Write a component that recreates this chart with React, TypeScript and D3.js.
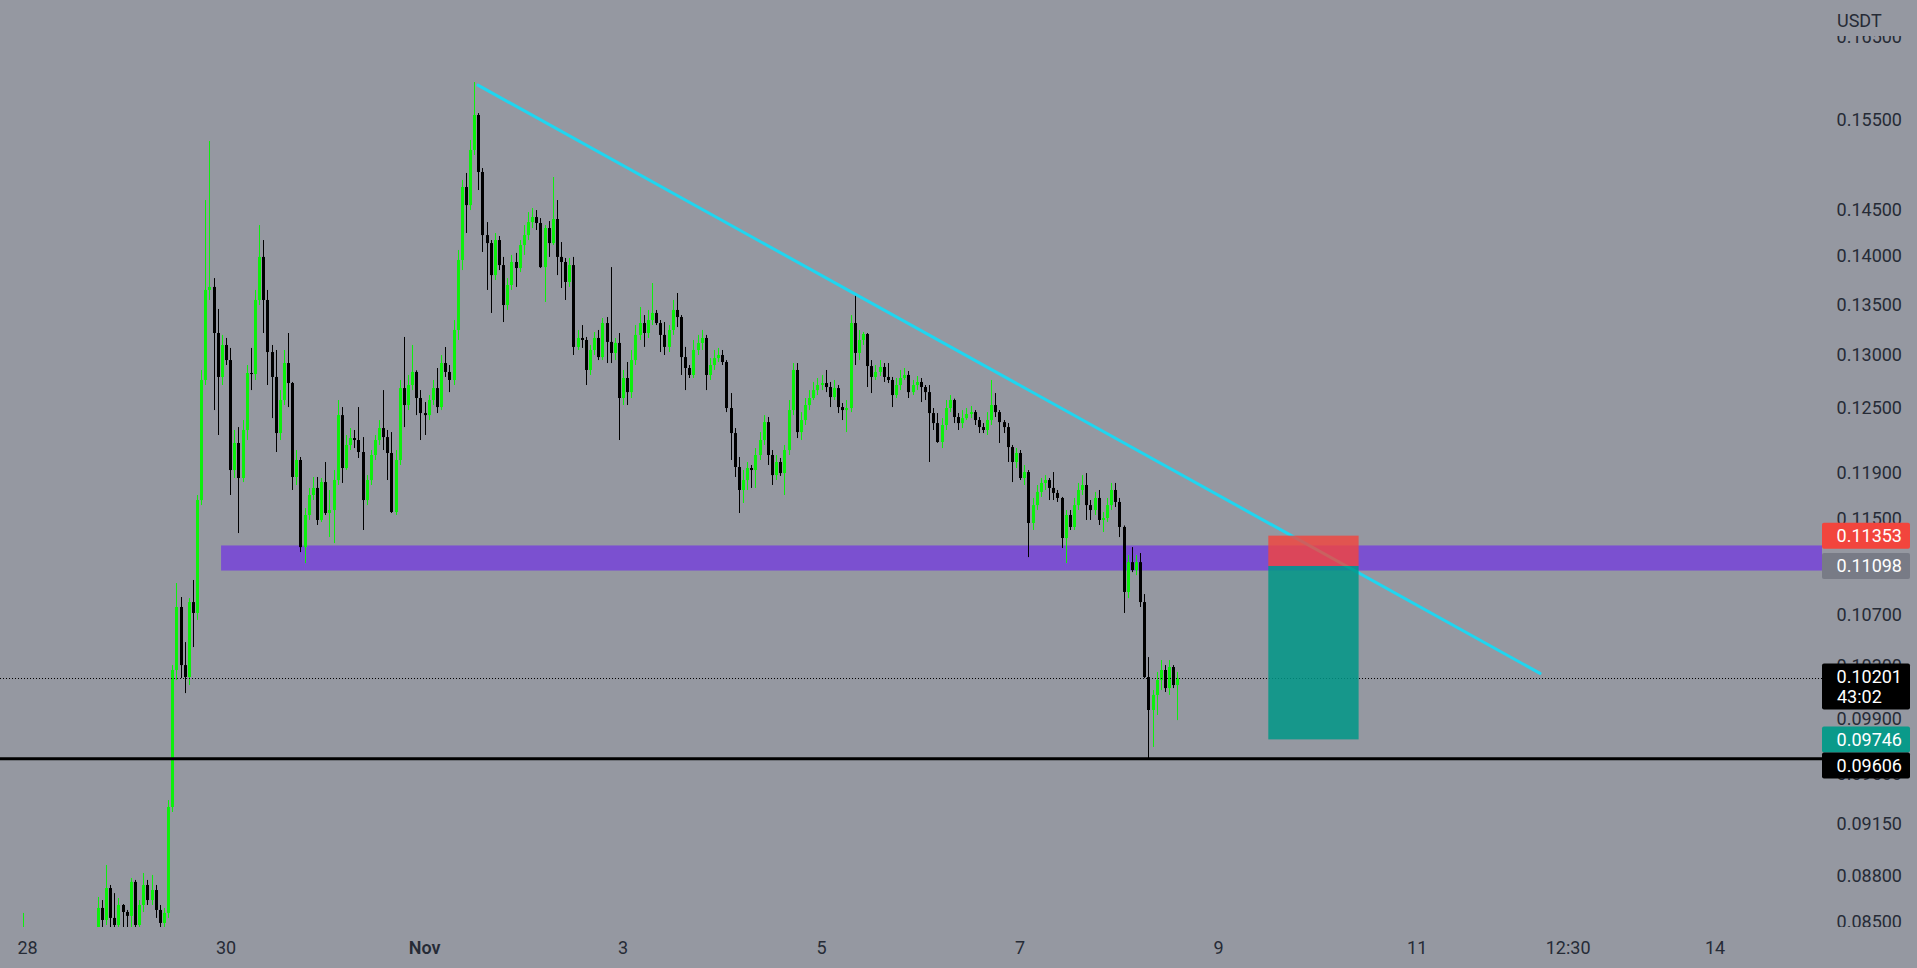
import React from "react";
import * as d3 from "d3";

const W = 1917;
const H = 968;
const PLOT_RIGHT = 1822;
const PLOT_BOTTOM = 927;

const BG = "#9598a1";
const UP = "#0cf00c";
const DOWN = "#000000";
const TEXT = "#262b36";

// hourly candles, first one opens Oct 27 23:00
const firstCandle = Date.UTC(2023, 9, 27, 23);
const hourMs = 3600 * 1000;

const opens = [
  0.08386, 0.08436, 0.08418, 0.08386, 0.08374, 0.08336, 0.08355, 0.08324, 0.08312, 0.08336,
  0.08361, 0.08349, 0.08324, 0.08305, 0.08336, 0.08361, 0.08386, 0.08399, 0.08418, 0.0859,
  0.08513, 0.08719, 0.08526, 0.08481, 0.08609, 0.08564, 0.08539, 0.08759, 0.08481, 0.08609,
  0.08739, 0.08641, 0.08706, 0.08577, 0.08494, 0.08558, 0.09265, 0.10266, 0.10762, 0.10304,
  0.10212, 0.10802, 0.10714, 0.1166, 0.12757, 0.13647, 0.13678, 0.13214, 0.12786, 0.13096,
  0.12949, 0.11925, 0.12169, 0.11854, 0.12288, 0.12824, 0.12814, 0.13545, 0.13989, 0.13545,
  0.13027, 0.12786, 0.1226, 0.12567, 0.1292, 0.12728, 0.11863, 0.12015, 0.11256, 0.1153,
  0.11704, 0.11766, 0.11487, 0.11818, 0.11547, 0.11573, 0.11836, 0.12426, 0.11943, 0.12151,
  0.12214, 0.12196, 0.12087, 0.1166, 0.11836, 0.1206, 0.12196, 0.12306, 0.12223, 0.12078,
  0.11556, 0.12015, 0.1268, 0.1252, 0.12709, 0.12834, 0.12586, 0.12445, 0.12426, 0.12567,
  0.1268, 0.12501, 0.1292, 0.12834, 0.12757, 0.13244, 0.13957, 0.14741, 0.14543, 0.15156,
  0.15558, 0.14908, 0.1422, 0.14135, 0.138, 0.14167, 0.13904, 0.13494, 0.13698, 0.13936,
  0.13873, 0.14114, 0.1422, 0.14359, 0.14413, 0.14349, 0.13883, 0.14295, 0.14135, 0.14392,
  0.13989, 0.13936, 0.13729, 0.13904, 0.13077, 0.13165, 0.13145, 0.12853, 0.13047, 0.13165,
  0.12978, 0.13313, 0.13126, 0.13018, 0.13116, 0.12586, 0.12776, 0.12642, 0.12949, 0.13195,
  0.13313, 0.13214, 0.13343, 0.13414, 0.13313, 0.13195, 0.13077, 0.13244, 0.13444, 0.13373,
  0.12978, 0.12872, 0.12805, 0.13047, 0.13116, 0.13165, 0.12805, 0.12901, 0.12968, 0.12998,
  0.1293, 0.12492, 0.1226, 0.11952, 0.11748, 0.11836, 0.11943, 0.11925, 0.1206, 0.12196,
  0.12361, 0.1206, 0.1188, 0.11997, 0.11898, 0.12105, 0.12473, 0.12853, 0.12269, 0.1238,
  0.1252, 0.12586, 0.12661, 0.12709, 0.12728, 0.1269, 0.12595, 0.1268, 0.12501, 0.12473,
  0.12492, 0.13313, 0.13018, 0.13145, 0.13204, 0.12891, 0.12786, 0.12834, 0.12882, 0.12786,
  0.12757, 0.12614, 0.12709, 0.12776, 0.12805, 0.12642, 0.12709, 0.12738, 0.1269, 0.12642,
  0.12445, 0.12352, 0.12178, 0.12334, 0.12492, 0.12567, 0.12408, 0.12352, 0.12398, 0.12436,
  0.12454, 0.1238, 0.12315, 0.12288, 0.1238, 0.1252, 0.12454, 0.12361, 0.12315, 0.12132,
  0.11997, 0.12078, 0.11854, 0.11907, 0.11461, 0.11616, 0.11731, 0.1181, 0.11836, 0.11766,
  0.11722, 0.11678, 0.11333, 0.1153, 0.11427, 0.11616, 0.11748, 0.11792, 0.11616, 0.11573,
  0.11678, 0.11487, 0.11504, 0.11616, 0.11748, 0.11643, 0.11427, 0.10884, 0.1113, 0.11064,
  0.1113, 0.10802, 0.10212, 0.09963, 0.10076, 0.10189, 0.10266, 0.10128, 0.10289, 0.10151,
];

const highs = [
  0.08558, 0.08446, 0.0843, 0.08405, 0.0838, 0.0837, 0.08362, 0.0834, 0.0835, 0.08375,
  0.0837, 0.08355, 0.08335, 0.08345, 0.08375, 0.08395, 0.0841, 0.0843, 0.08661, 0.08641,
  0.08871, 0.08739, 0.08686, 0.08654, 0.08615, 0.08577, 0.08785, 0.08772, 0.08641, 0.08818,
  0.08772, 0.08805, 0.08739, 0.08609, 0.0859, 0.09313, 0.10304, 0.10957, 0.10843, 0.10483,
  0.10834, 0.10982, 0.11704, 0.12853, 0.14598, 0.15258, 0.13769, 0.13454, 0.13195, 0.13165,
  0.13067, 0.12288, 0.12315, 0.1238, 0.12901, 0.13067, 0.13647, 0.14327, 0.14167, 0.13647,
  0.13096, 0.13047, 0.12661, 0.13047, 0.13214, 0.12738, 0.12105, 0.12042, 0.1159, 0.11766,
  0.11863, 0.11863, 0.11854, 0.11997, 0.11748, 0.11925, 0.12567, 0.12501, 0.12242, 0.12306,
  0.12288, 0.12501, 0.12223, 0.1188, 0.12105, 0.12242, 0.1238, 0.12661, 0.12288, 0.12269,
  0.12105, 0.12757, 0.13175, 0.12805, 0.13096, 0.1285, 0.12661, 0.12548, 0.12614, 0.12757,
  0.12872, 0.12998, 0.13076, 0.12901, 0.13343, 0.14062, 0.14819, 0.14897, 0.1527, 0.15947,
  0.15581, 0.14952, 0.14359, 0.14167, 0.14242, 0.1421, 0.13989, 0.13769, 0.1401, 0.14031,
  0.14167, 0.14327, 0.14467, 0.14511, 0.14489, 0.14402, 0.14327, 0.1437, 0.14852, 0.14598,
  0.14146, 0.13978, 0.13978, 0.13989, 0.13244, 0.13293, 0.13175, 0.13096, 0.13224, 0.13244,
  0.13363, 0.13373, 0.13883, 0.13165, 0.13214, 0.12853, 0.1293, 0.13047, 0.13293, 0.13474,
  0.13393, 0.13444, 0.13718, 0.13444, 0.13343, 0.13323, 0.13293, 0.13545, 0.13616, 0.13393,
  0.13077, 0.12901, 0.13145, 0.13195, 0.13244, 0.13195, 0.12968, 0.13047, 0.13067, 0.13047,
  0.12949, 0.12633, 0.12306, 0.12042, 0.11925, 0.11997, 0.1197, 0.12123, 0.12269, 0.12426,
  0.12408, 0.12105, 0.1206, 0.12033, 0.12151, 0.12567, 0.1292, 0.1292, 0.12454, 0.12586,
  0.12661, 0.12738, 0.12776, 0.12805, 0.12853, 0.12738, 0.12757, 0.12709, 0.12539, 0.12567,
  0.13393, 0.13616, 0.13244, 0.13224, 0.13214, 0.12949, 0.12901, 0.12949, 0.1292, 0.1292,
  0.12786, 0.12776, 0.12853, 0.12872, 0.12843, 0.12757, 0.12795, 0.12776, 0.12709, 0.12709,
  0.12492, 0.12445, 0.12398, 0.12567, 0.12614, 0.1258, 0.12445, 0.12473, 0.12492, 0.12511,
  0.12473, 0.12408, 0.12352, 0.12454, 0.12757, 0.12633, 0.12473, 0.1238, 0.12352, 0.12151,
  0.12123, 0.12105, 0.1197, 0.11925, 0.11678, 0.11792, 0.11854, 0.1188, 0.11854, 0.11907,
  0.11748, 0.11687, 0.11573, 0.11573, 0.11678, 0.1181, 0.1188, 0.11898, 0.1166, 0.11731,
  0.11748, 0.11556, 0.11678, 0.1181, 0.1181, 0.11678, 0.1144, 0.11189, 0.11256, 0.11189,
  0.11206, 0.10867, 0.10366, 0.10113, 0.10251, 0.10343, 0.10304, 0.10343, 0.10304, 0.10251,
];

const lows = [
  0.08355, 0.08395, 0.0837, 0.0835, 0.0831, 0.0832, 0.083, 0.0829, 0.083, 0.08325,
  0.0833, 0.0831, 0.0829, 0.08295, 0.0832, 0.0835, 0.0837, 0.08385, 0.08399, 0.08418,
  0.08481, 0.08436, 0.08436, 0.08418, 0.08418, 0.08418, 0.08449, 0.08436, 0.08436, 0.08564,
  0.08609, 0.08609, 0.08526, 0.08449, 0.08462, 0.08526, 0.0923, 0.10189, 0.10204, 0.1009,
  0.10151, 0.10444, 0.10658, 0.11616, 0.12709, 0.13545, 0.12473, 0.12242, 0.12709, 0.12901,
  0.11704, 0.11854, 0.11375, 0.11818, 0.12196, 0.12661, 0.12757, 0.13494, 0.13214, 0.12709,
  0.12398, 0.12087, 0.12196, 0.1252, 0.12501, 0.11748, 0.11792, 0.11214, 0.11122, 0.11487,
  0.1166, 0.11444, 0.1147, 0.1153, 0.11341, 0.1129, 0.11792, 0.1181, 0.11925, 0.12105,
  0.12123, 0.12033, 0.11401, 0.11616, 0.11792, 0.12015, 0.12151, 0.12105, 0.11836, 0.11547,
  0.1153, 0.1197, 0.12315, 0.12473, 0.12661, 0.12426, 0.12196, 0.12242, 0.1238, 0.1252,
  0.12445, 0.12473, 0.12786, 0.12642, 0.12709, 0.13145, 0.13852, 0.14242, 0.14489, 0.15099,
  0.14708, 0.14041, 0.13647, 0.13414, 0.13749, 0.13852, 0.13323, 0.13444, 0.13647, 0.13678,
  0.13831, 0.1401, 0.14167, 0.14295, 0.14274, 0.13873, 0.13525, 0.13989, 0.14114, 0.138,
  0.13667, 0.13545, 0.13678, 0.12998, 0.13047, 0.13067, 0.12709, 0.12805, 0.12998, 0.12949,
  0.12949, 0.1292, 0.1292, 0.12949, 0.12196, 0.1252, 0.1252, 0.12586, 0.12901, 0.13145,
  0.13077, 0.13165, 0.13293, 0.13293, 0.13027, 0.12998, 0.13027, 0.13195, 0.13273, 0.12805,
  0.12661, 0.12776, 0.12776, 0.12998, 0.13047, 0.12661, 0.12757, 0.12853, 0.1293, 0.12901,
  0.12454, 0.12015, 0.11863, 0.11547, 0.11634, 0.11748, 0.11766, 0.11766, 0.12015, 0.12151,
  0.1197, 0.11792, 0.11836, 0.11872, 0.11704, 0.1206, 0.12426, 0.12214, 0.12196, 0.12334,
  0.12473, 0.12567, 0.12614, 0.12661, 0.12642, 0.12501, 0.12567, 0.12445, 0.1238, 0.12269,
  0.12454, 0.12901, 0.12949, 0.13096, 0.1269, 0.12633, 0.12757, 0.12795, 0.12738, 0.12728,
  0.12501, 0.12586, 0.12661, 0.12757, 0.12586, 0.12614, 0.12661, 0.12548, 0.12567, 0.11997,
  0.12288, 0.1217, 0.12123, 0.12288, 0.12454, 0.12352, 0.12288, 0.12306, 0.1238, 0.12398,
  0.12334, 0.1226, 0.1226, 0.12242, 0.12334, 0.12408, 0.12169, 0.1226, 0.11997, 0.11818,
  0.11943, 0.11836, 0.11792, 0.11172, 0.11401, 0.11573, 0.11687, 0.11748, 0.1166, 0.1166,
  0.11643, 0.11248, 0.11122, 0.11401, 0.11401, 0.11573, 0.11704, 0.11487, 0.11487, 0.1153,
  0.11444, 0.11384, 0.1147, 0.11573, 0.11599, 0.11341, 0.10714, 0.10834, 0.11047, 0.11022,
  0.10762, 0.10204, 0.09606, 0.09691, 0.09926, 0.10113, 0.10098, 0.10076, 0.10128, 0.09888,
];

const closes = [
  0.08436, 0.08418, 0.08386, 0.08374, 0.08336, 0.08355, 0.08324, 0.08312, 0.08336, 0.08361,
  0.08349, 0.08324, 0.08305, 0.08336, 0.08361, 0.08386, 0.08399, 0.08418, 0.0859, 0.08513,
  0.08719, 0.08526, 0.08481, 0.08609, 0.08564, 0.08539, 0.08759, 0.08481, 0.08609, 0.08739,
  0.08641, 0.08706, 0.08577, 0.08494, 0.08558, 0.09265, 0.10266, 0.10762, 0.10304, 0.10212,
  0.10802, 0.10714, 0.1166, 0.12757, 0.13647, 0.13678, 0.13214, 0.12786, 0.13096, 0.12949,
  0.11925, 0.12169, 0.11854, 0.12288, 0.12824, 0.12814, 0.13545, 0.13989, 0.13545, 0.13027,
  0.12786, 0.1226, 0.12567, 0.1292, 0.12728, 0.11863, 0.12015, 0.11256, 0.1153, 0.11704,
  0.11766, 0.11487, 0.11818, 0.11547, 0.11573, 0.11836, 0.12426, 0.11943, 0.12151, 0.12214,
  0.12196, 0.12087, 0.1166, 0.11836, 0.1206, 0.12196, 0.12306, 0.12223, 0.12078, 0.11556,
  0.12015, 0.1268, 0.1252, 0.12709, 0.12834, 0.12586, 0.12445, 0.12426, 0.12567, 0.1268,
  0.12501, 0.1292, 0.12834, 0.12757, 0.13244, 0.13957, 0.14741, 0.14543, 0.15156, 0.15558,
  0.14908, 0.1422, 0.14135, 0.138, 0.14167, 0.13904, 0.13494, 0.13698, 0.13936, 0.13873,
  0.14114, 0.1422, 0.14359, 0.14413, 0.14349, 0.13883, 0.14295, 0.14135, 0.14392, 0.13989,
  0.13936, 0.13729, 0.13904, 0.13077, 0.13165, 0.13145, 0.12853, 0.13047, 0.13165, 0.12978,
  0.13313, 0.13126, 0.13018, 0.13116, 0.12586, 0.12776, 0.12642, 0.12949, 0.13195, 0.13313,
  0.13214, 0.13343, 0.13414, 0.13313, 0.13195, 0.13077, 0.13244, 0.13444, 0.13373, 0.12978,
  0.12872, 0.12805, 0.13047, 0.13116, 0.13165, 0.12805, 0.12901, 0.12968, 0.12998, 0.1293,
  0.12492, 0.1226, 0.11952, 0.11748, 0.11836, 0.11943, 0.11925, 0.1206, 0.12196, 0.12361,
  0.1206, 0.1188, 0.11997, 0.11898, 0.12105, 0.12473, 0.12853, 0.12269, 0.1238, 0.1252,
  0.12586, 0.12661, 0.12709, 0.12728, 0.1269, 0.12595, 0.1268, 0.12501, 0.12473, 0.12492,
  0.13313, 0.13018, 0.13145, 0.13204, 0.12891, 0.12786, 0.12834, 0.12882, 0.12786, 0.12757,
  0.12614, 0.12709, 0.12776, 0.12805, 0.12642, 0.12709, 0.12738, 0.1269, 0.12642, 0.12445,
  0.12352, 0.12178, 0.12334, 0.12492, 0.12567, 0.12408, 0.12352, 0.12398, 0.12436, 0.12454,
  0.1238, 0.12315, 0.12288, 0.1238, 0.1252, 0.12454, 0.12361, 0.12315, 0.12132, 0.11997,
  0.12078, 0.11854, 0.11907, 0.11461, 0.11616, 0.11731, 0.1181, 0.11836, 0.11766, 0.11722,
  0.11678, 0.11333, 0.1153, 0.11427, 0.11616, 0.11748, 0.11792, 0.11616, 0.11573, 0.11678,
  0.11487, 0.11504, 0.11616, 0.11748, 0.11643, 0.11427, 0.10884, 0.1113, 0.11064, 0.1113,
  0.10802, 0.10212, 0.09963, 0.10076, 0.10189, 0.10266, 0.10128, 0.10289, 0.10151, 0.10201,
];

// axes
const timeTicks = [
  Date.UTC(2023, 9, 28), Date.UTC(2023, 9, 30), Date.UTC(2023, 10, 1),
  Date.UTC(2023, 10, 3), Date.UTC(2023, 10, 5), Date.UTC(2023, 10, 7),
  Date.UTC(2023, 10, 9), Date.UTC(2023, 10, 11), Date.UTC(2023, 10, 12, 12, 30),
  Date.UTC(2023, 10, 14),
];
const timeLabels = ["28", "30", "Nov", "3", "5", "7", "9", "11", "12:30", "14"];
const priceTicks = [
  0.165, 0.155, 0.145, 0.14, 0.135, 0.13, 0.125, 0.119, 0.115, 0.107, 0.103, 0.099,
  0.095, 0.0915, 0.088, 0.085,
];

// drawings
const trendTimes = [Date.UTC(2023, 10, 1, 12, 54), Date.UTC(2023, 10, 12, 5, 42)];
const trendPrices = [0.1591, 0.1024];
const zoneStart = Date.UTC(2023, 9, 29, 22, 48);
const zonePrices = [0.1127, 0.1106];
const positionTimes = [Date.UTC(2023, 10, 9, 12), Date.UTC(2023, 10, 10, 9, 50)];
const stopPrice = 0.11353;
const entryPrice = 0.11098;
const targetPrice = 0.09746;
const supportPrice = 0.09606;
const lastPrice = 0.10201;
const countdown = "43:02";

const x = d3
  .scaleUtc()
  .domain([Date.UTC(2023, 9, 28), Date.UTC(2023, 10, 14)])
  .range([27.5, 1715]);
const y = d3.scaleLog().domain([0.155, 0.085]).range([120, 922]);

const fmt = (v: number) => v.toFixed(5);
const FONT = "Roboto, 'Liberation Sans', sans-serif";

function PriceBox({
  value,
  center,
  fill,
  sub,
}: {
  value: number;
  center: number;
  fill: string;
  sub?: string;
}) {
  const h = sub ? 46 : 26;
  const top = sub ? center - 15 : center - 13;
  return (
    <g>
      <rect x={PLOT_RIGHT} y={top} width={88} height={h} rx={2} fill={fill} />
      <text
        x={1902}
        y={top + 13}
        dy="0.36em"
        textAnchor="end"
        fill="#ffffff"
        fontSize={18}
      >
        {fmt(value)}
      </text>
      {sub && (
        <text
          x={1837}
          y={top + 33}
          dy="0.36em"
          textAnchor="start"
          fill="#ffffff"
          fontSize={18}
        >
          {sub}
        </text>
      )}
    </g>
  );
}

export default function App() {
  const candles = closes.map((c, i) => ({
    t: firstCandle + i * hourMs,
    o: opens[i],
    h: highs[i],
    l: lows[i],
    c,
  }));

  const trendLine = d3
    .line<number>()
    .x((t) => x(t))
    .y((_, i) => y(trendPrices[i]));

  const px0 = x(positionTimes[0]);
  const px1 = x(positionTimes[1]);

  // right-hand labels, pushed apart where they would overlap
  const stopY = y(stopPrice);
  const entryY = Math.max(y(entryPrice), stopY + 26);
  const lastY = y(lastPrice);
  const targetY = Math.max(y(targetPrice), lastY - 15 + 46 + 13);
  const supportY = Math.max(y(supportPrice), targetY + 26);

  return (
    <div style={{ position: "fixed", left: 0, top: 0, width: W, height: H }}>
      <svg width={W} height={H} style={{ display: "block", fontFamily: FONT }}>
        <defs>
          <clipPath id="plot">
            <rect x={0} y={0} width={PLOT_RIGHT} height={PLOT_BOTTOM} />
          </clipPath>
          <clipPath id="axis">
            <rect x={PLOT_RIGHT} y={36} width={W - PLOT_RIGHT} height={PLOT_BOTTOM - 36} />
          </clipPath>
        </defs>
        <rect width={W} height={H} fill={BG} />

        <g clipPath="url(#plot)">
          {/* support / resistance zone */}
          <rect
            x={x(zoneStart)}
            y={y(zonePrices[0])}
            width={PLOT_RIGHT - x(zoneStart)}
            height={y(zonePrices[1]) - y(zonePrices[0])}
            fill="#7b50d0"
          />

          {/* candles */}
          {candles.map((d) => {
            const cx = Math.round(x(d.t));
            const up = d.c >= d.o;
            const col = up ? UP : DOWN;
            const top = y(Math.max(d.o, d.c));
            const bot = y(Math.min(d.o, d.c));
            return (
              <g key={d.t}>
                <line
                  x1={cx + 0.5}
                  x2={cx + 0.5}
                  y1={y(d.h)}
                  y2={y(d.l)}
                  stroke={col}
                  strokeWidth={1}
                />
                <rect
                  x={cx - 1}
                  y={top}
                  width={3}
                  height={Math.max(1, bot - top)}
                  fill={col}
                />
              </g>
            );
          })}

          {/* last price dotted line */}
          <line
            x1={0}
            x2={PLOT_RIGHT}
            y1={Math.round(y(lastPrice)) + 0.5}
            y2={Math.round(y(lastPrice)) + 0.5}
            stroke="#000"
            strokeWidth={1}
            strokeDasharray="1 2"
          />

          {/* support line */}
          <line
            x1={0}
            x2={PLOT_RIGHT}
            y1={y(supportPrice)}
            y2={y(supportPrice)}
            stroke="#000"
            strokeWidth={3}
          />

          {/* trend line */}
          <path
            d={trendLine(trendTimes) ?? ""}
            stroke="#1fd6f0"
            strokeWidth={3}
            fill="none"
            strokeLinecap="round"
          />

          {/* short position */}
          <rect
            x={px0}
            y={y(entryPrice)}
            width={px1 - px0}
            height={y(targetPrice) - y(entryPrice)}
            fill="#009687"
            fillOpacity={0.85}
          />
          <rect
            x={px0}
            y={y(stopPrice)}
            width={px1 - px0}
            height={y(entryPrice) - y(stopPrice)}
            fill="#f4443c"
            fillOpacity={0.8}
          />
        </g>

        {/* price axis */}
        <g clipPath="url(#axis)">
          {priceTicks.map((p) => (
            <text
              key={p}
              x={1902}
              y={y(p)}
              dy="0.36em"
              textAnchor="end"
              fill={TEXT}
              fontSize={18}
            >
              {fmt(p)}
            </text>
          ))}
        </g>
        <text x={1837} y={21} dy="0.36em" fill={TEXT} fontSize={18}>
          USDT
        </text>

        <PriceBox value={stopPrice} center={stopY} fill="#f2453d" />
        <PriceBox value={entryPrice} center={entryY} fill="#787b86" />
        <PriceBox value={lastPrice} center={lastY} fill="#000000" sub={countdown} />
        <PriceBox value={targetPrice} center={targetY} fill="#0a9a8a" />
        <PriceBox value={supportPrice} center={supportY} fill="#000000" />

        {/* time axis */}
        {timeTicks.map((t, i) => (
          <text
            key={t}
            x={x(t)}
            y={948}
            dy="0.36em"
            textAnchor="middle"
            fill={TEXT}
            fontSize={18}
            fontWeight={timeLabels[i] === "Nov" ? 600 : 400}
          >
            {timeLabels[i]}
          </text>
        ))}
      </svg>
    </div>
  );
}
